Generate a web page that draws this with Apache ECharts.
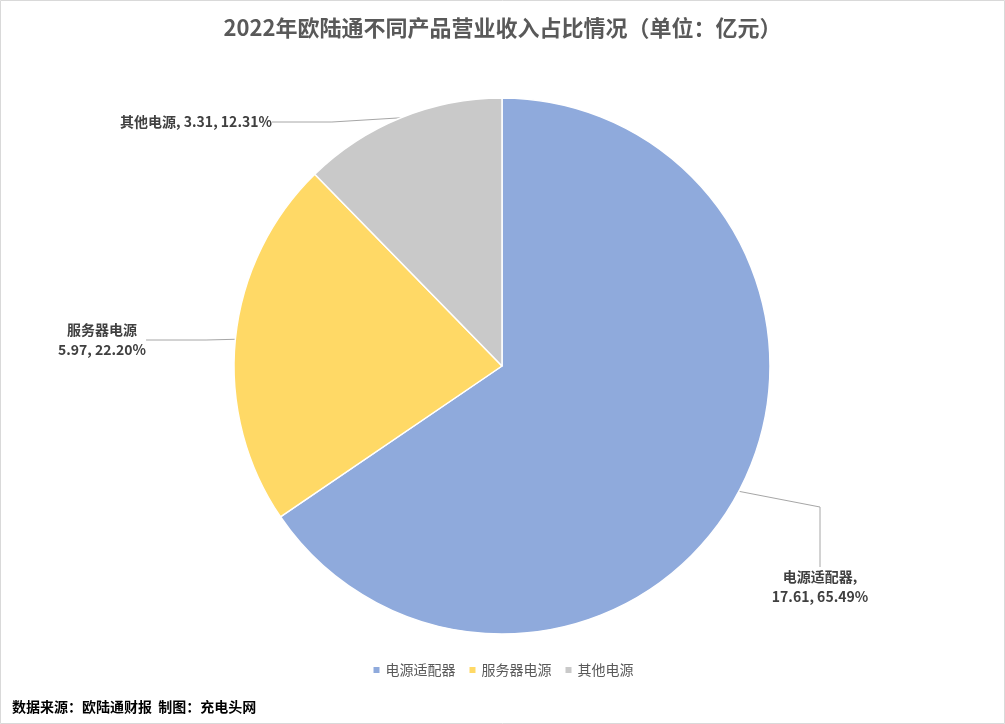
<!DOCTYPE html>
<html><head><meta charset="utf-8">
<script src="https://cdn.jsdelivr.net/npm/echarts@6/dist/echarts.min.js"></script>
<style>html,body{margin:0;padding:0;background:#fff}#c{width:1005px;height:724px}</style>
</head><body><div id="c"></div>
<script>
const categories = ['电源适配器', '服务器电源', '其他电源'];
const values = [17.61, 5.97, 3.31];
const percents = ['65.49%', '22.20%', '12.31%'];
const colors = ['#8FAADC', '#FFD966', '#C9C9C9'];
const labelSep = [',\n', '\n', ', '];
// label anchor spots (pixel), per slice
const labelSpots = [[820, 587], [102, 340], [196, 122]];

const chart = echarts.init(document.getElementById('c'));
chart.setOption({
  backgroundColor: '#fff',
  title: {
    text: '2022年欧陆通不同产品营业收入占比情况（单位：亿元）',
    left: 'center', top: 12,
    textStyle: { fontSize: 22, fontWeight: 'bold', color: '#595959', fontFamily: 'Noto Sans CJK SC' }
  },
  legend: {
    bottom: 42, itemWidth: 8, itemHeight: 8, icon: 'rect', itemGap: 12,
    textStyle: { fontSize: 14, color: '#595959', fontFamily: 'Noto Sans CJK SC' },
    data: categories
  },
  graphic: [
    { type: 'rect', shape: { x: 0.5, y: 0.5, width: 1004, height: 723 }, style: { fill: 'none', stroke: '#d9d9d9' } },
    { type: 'text', left: 12, bottom: 10, style: { text: '数据来源：欧陆通财报  制图：充电头网', font: 'bold 14px "Noto Sans CJK SC"', fill: '#000' } }
  ],
  series: [{
    type: 'pie',
    center: [502, 366], radius: 268, startAngle: 90, clockwise: true,
    itemStyle: { borderColor: '#fff', borderWidth: 1.5 },
    label: {
      show: true, fontSize: 14, fontWeight: 'bold', color: '#404040', lineHeight: 20,
      fontFamily: 'Noto Sans CJK SC', align: 'center'
    },
    labelLine: { show: true, length: 30, length2: 60, lineStyle: { color: '#a6a6a6' } },
    labelLayout: function (p) {
      const s = labelSpots[p.dataIndex];
      return { x: s[0], y: s[1], align: 'center', verticalAlign: 'middle' };
    },
    data: categories.map((c, i) => ({
      name: c, value: values[i],
      itemStyle: { color: colors[i] },
      label: { formatter: c + labelSep[i] + values[i].toFixed(2) + ', ' + percents[i] }
    }))
  }]
});
</script></body></html>
